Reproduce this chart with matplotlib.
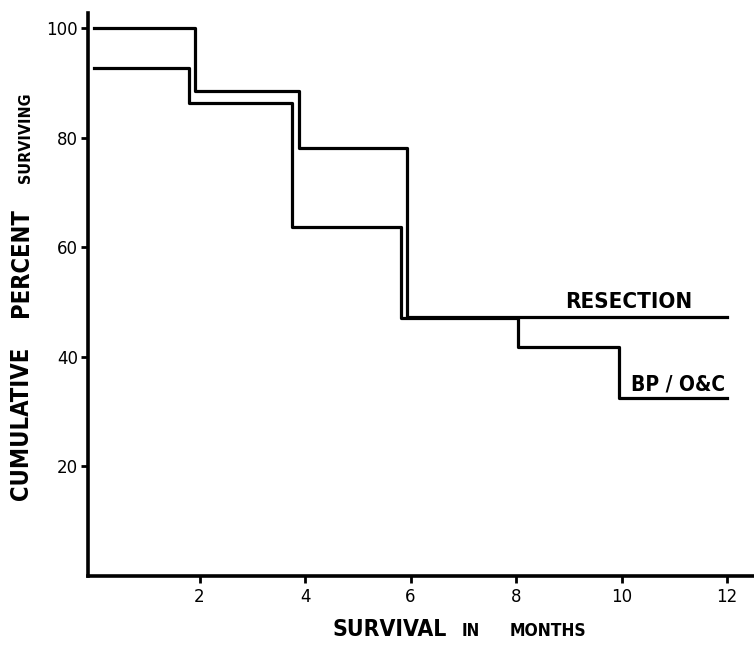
import matplotlib
matplotlib.use('Agg')
import matplotlib.pyplot as plt

# Kaplan-Meier style step curves
res_months = [0, 1.91, 3.89, 5.94, 12]
res_pct = [100, 88.6, 78.2, 47.3, 47.3]
bp_months = [0, 1.80, 3.76, 5.82, 8.03, 9.96, 12]
bp_pct = [92.8, 86.3, 63.8, 47.1, 41.8, 32.5, 32.5]
xticks = [2, 4, 6, 8, 10, 12]
yticks = [20, 40, 60, 80, 100]

label_font = dict(family='DejaVu Sans', weight='bold', stretch='condensed')

fig = plt.figure(figsize=(7.54, 6.56), dpi=100)
ax = fig.add_axes([0.1163, 0.122, 0.883, 0.858])

ax.step(res_months, res_pct, where='post', color='black', lw=2.3)
ax.step(bp_months, bp_pct, where='post', color='black', lw=2.3)

ax.set_xlim(-0.12, 12.5)
ax.set_ylim(0, 102.8)
ax.set_xticks(xticks)
ax.set_yticks(yticks)
ax.tick_params(direction='out', length=5, width=2, labelsize=12, pad=2)
ax.tick_params(axis='x', pad=4)
for s in ['top', 'right']:
    ax.spines[s].set_visible(False)
for s in ['left', 'bottom']:
    ax.spines[s].set_linewidth(2.6)

#曲線のラベル
ax.text(11.34, 48.9, 'RESECTION', ha='right', va='baseline', fontsize=16, **label_font)
ax.text(11.96, 33.8, 'BP / O&C', ha='right', va='baseline', fontsize=15, **label_font)

#縦軸ラベル
fig.text(33 / 754, 1 - 500 / 656, 'CUMULATIVE', rotation=90, ha='right', va='bottom', fontsize=17, **label_font)
fig.text(33 / 754, 1 - 317 / 656, 'PERCENT', rotation=90, ha='right', va='bottom', fontsize=17, **label_font)
fig.text(33 / 754, 1 - 183 / 656, 'SURVIVING', rotation=90, ha='right', va='bottom', fontsize=11.5, **label_font)

#横軸ラベル
fig.text(333 / 754, 1 - 636 / 656, 'SURVIVAL', ha='left', va='baseline', fontsize=16.5, **label_font)
fig.text(462 / 754, 1 - 636 / 656, 'IN', ha='left', va='baseline', fontsize=12, **label_font)
fig.text(510 / 754, 1 - 636 / 656, 'MONTHS', ha='left', va='baseline', fontsize=12.5, **label_font)

fig.savefig('out.png', dpi=100)
